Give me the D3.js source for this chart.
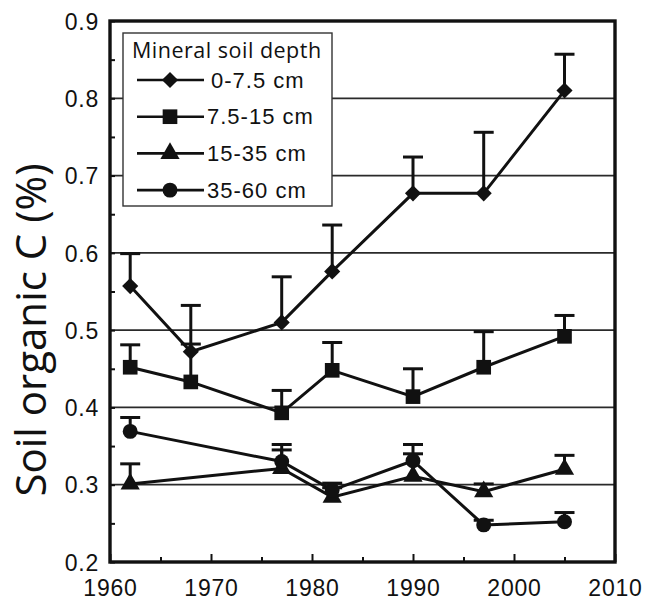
<!DOCTYPE html>
<html>
<head>
<meta charset="utf-8">
<script src="https://cdn.jsdelivr.net/npm/d3@7"></script>
<style>
  body { margin: 0; background: #fff; }
  svg { display: block; }
</style>
</head>
<body>
<svg></svg>
<script>
const width = 645;
const height = 601;

// sampling years and depth classes
const years = [1962, 1968, 1977, 1982, 1990, 1997, 2005];
const depths = ["0-7.5 cm", "7.5-15 cm", "15-35 cm", "35-60 cm"];

// mean soil organic C (%) per depth, and the upper error bar (SE)
const c0to7 = [0.557, 0.472, 0.510, 0.576, 0.677, 0.677, 0.810];
const se0to7 = [0.042, 0.060, 0.059, 0.060, 0.047, 0.079, 0.047];
const c7to15 = [0.452, 0.433, 0.393, 0.448, 0.414, 0.452, 0.492];
const se7to15 = [0.029, 0.049, 0.029, 0.036, 0.036, 0.046, 0.027];
const c15to35 = [0.301, null, 0.321, 0.284, 0.311, 0.291, 0.320];
const se15to35 = [0.026, null, 0.024, 0.012, 0.029, 0.010, 0.018];
const c35to60 = [0.369, null, 0.330, 0.293, 0.331, 0.248, 0.252];
const se35to60 = [0.018, null, 0.022, 0.009, 0.021, 0.006, 0.012];

const xTicks = [1960, 1970, 1980, 1990, 2000, 2010];
const yTicks = [0.2, 0.3, 0.4, 0.5, 0.6, 0.7, 0.8, 0.9];

const margin = {top: 21, right: 30, bottom: 39, left: 110};

const x = d3.scaleLinear()
  .domain([1960, 2010])
  .range([margin.left, width - margin.right]);

const y = d3.scaleLinear()
  .domain([0.2, 0.9])
  .range([height - margin.bottom, margin.top]);

const series = [
  {name: depths[0], values: c0to7, se: se0to7, symbol: d3.symbolSquare, size: 130, rotate: 45},
  {name: depths[1], values: c7to15, se: se7to15, symbol: d3.symbolSquare, size: 215, rotate: 0},
  {name: depths[2], values: c15to35, se: se15to35, symbol: d3.symbolTriangle, size: 160, rotate: 0},
  {name: depths[3], values: c35to60, se: se35to60, symbol: d3.symbolCircle, size: 175, rotate: 0}
].map(function (s) {
  s.points = years.map(function (yr, i) {
    return {year: yr, v: s.values[i], se: s.se[i]};
  }).filter(function (p) { return p.v != null; });
  return s;
});

const svg = d3.select("svg")
  .attr("width", width)
  .attr("height", height);

const ink = "#111";

// horizontal grid lines
svg.append("g")
  .selectAll("line")
  .data(yTicks.slice(1, -1))
  .enter().append("line")
    .attr("x1", x(1960))
    .attr("x2", x(2010))
    .attr("y1", function (d) { return y(d); })
    .attr("y2", function (d) { return y(d); })
    .attr("stroke", "#2a2a2a")
    .attr("stroke-width", 1.7);

// axes, ticks pointing inward
const xAxis = d3.axisBottom(x)
  .tickValues(d3.range(1960, 2011, 5))
  .tickSizeInner(-8)
  .tickSizeOuter(0)
  .tickPadding(18)
  .tickFormat(function (d) { return xTicks.indexOf(d) >= 0 ? d : ""; });

const yAxis = d3.axisLeft(y)
  .tickValues(d3.range(0.2, 0.901, 0.05))
  .tickSizeInner(-5)
  .tickSizeOuter(0)
  .tickPadding(11)
  .tickFormat(function (d) {
    const r = Math.round(d * 100);
    return r % 10 === 0 ? d3.format(".1f")(d) : "";
  });

const gx = svg.append("g")
  .attr("transform", "translate(0," + (height - margin.bottom) + ")")
  .call(xAxis);

gx.selectAll(".tick line")
  .attr("y2", function (d) { return d % 10 === 0 ? -8 : -5; })
  .attr("stroke", ink)
  .attr("stroke-width", 2);

const gy = svg.append("g")
  .attr("transform", "translate(" + margin.left + ",0)")
  .call(yAxis);

gy.selectAll(".tick line")
  .attr("stroke", ink)
  .attr("stroke-width", 2);

[gx, gy].forEach(function (g) {
  g.select(".domain").remove();
  g.selectAll("text")
    .attr("fill", ink)
    .style("font-family", "'Liberation Sans', Arial, sans-serif")
    .style("font-size", "23px")
    .style("letter-spacing", "0.8px");
});

gy.selectAll("text").attr("dy", "0.36em");

// frame
svg.append("rect")
  .attr("x", x(1960))
  .attr("y", y(0.9))
  .attr("width", x(2010) - x(1960))
  .attr("height", y(0.2) - y(0.9))
  .attr("fill", "none")
  .attr("stroke", ink)
  .attr("stroke-width", 3.4);

// y axis title
svg.append("text")
  .attr("transform", "translate(46,330) rotate(-90)")
  .attr("text-anchor", "middle")
  .attr("fill", ink)
  .style("font-family", "'Open Sans', sans-serif")
  .style("font-size", "42px")
  .text("Soil organic C (%)");

// lines
const line = d3.line()
  .x(function (d) { return x(d.year); })
  .y(function (d) { return y(d.v); });

svg.append("g")
  .selectAll("path")
  .data(series)
  .enter().append("path")
    .attr("d", function (s) { return line(s.points); })
    .attr("fill", "none")
    .attr("stroke", ink)
    .attr("stroke-width", 3);

// error bars (upper only)
const err = svg.append("g")
  .selectAll("g")
  .data(series)
  .enter().append("g")
  .selectAll("g")
  .data(function (s) { return s.points; })
  .enter().append("g");

err.append("line")
  .attr("x1", function (d) { return x(d.year); })
  .attr("x2", function (d) { return x(d.year); })
  .attr("y1", function (d) { return y(d.v); })
  .attr("y2", function (d) { return y(d.v + d.se); })
  .attr("stroke", ink)
  .attr("stroke-width", 3);

err.append("line")
  .attr("x1", function (d) { return x(d.year) - 10; })
  .attr("x2", function (d) { return x(d.year) + 10; })
  .attr("y1", function (d) { return y(d.v + d.se); })
  .attr("y2", function (d) { return y(d.v + d.se); })
  .attr("stroke", ink)
  .attr("stroke-width", 3);

// markers
svg.append("g")
  .selectAll("g")
  .data(series)
  .enter().append("g")
  .each(function (s) {
    d3.select(this).selectAll("path")
      .data(s.points)
      .enter().append("path")
        .attr("d", d3.symbol().type(s.symbol).size(s.size))
        .attr("transform", function (d) {
          return "translate(" + x(d.year) + "," + y(d.v) + ") rotate(" + s.rotate + ")";
        })
        .attr("fill", ink);
  });

// legend
const legend = svg.append("g");

legend.append("rect")
  .attr("x", 123)
  .attr("y", 33)
  .attr("width", 209)
  .attr("height", 173)
  .attr("fill", "#fff")
  .attr("stroke", "#333")
  .attr("stroke-width", 1.4);

legend.append("text")
  .attr("x", 132)
  .attr("y", 58)
  .attr("fill", ink)
  .style("font-family", "'Open Sans', sans-serif")
  .style("font-size", "21.5px")
  .style("letter-spacing", "0.5px")
  .text("Mineral soil depth");

const item = legend.selectAll(".item")
  .data(series)
  .enter().append("g")
    .attr("class", "item")
    .attr("transform", function (d, i) { return "translate(0," + (80 + i * 36.7) + ")"; });

item.append("line")
  .attr("x1", 137)
  .attr("x2", 204)
  .attr("stroke", ink)
  .attr("stroke-width", 2.6);

item.append("path")
  .attr("d", function (s) { return d3.symbol().type(s.symbol).size(s.size)(); })
  .attr("transform", function (s) { return "translate(170,0) rotate(" + s.rotate + ")"; })
  .attr("fill", ink);

item.append("text")
  .attr("x", function (s, i) { return i === 0 ? 211 : 207; })
  .attr("y", 7.5)
  .attr("fill", ink)
  .style("font-family", "'Liberation Sans', Arial, sans-serif")
  .style("font-size", "22px")
  .style("letter-spacing", "1px")
  .text(function (s) { return s.name; });
</script>
</body>
</html>
